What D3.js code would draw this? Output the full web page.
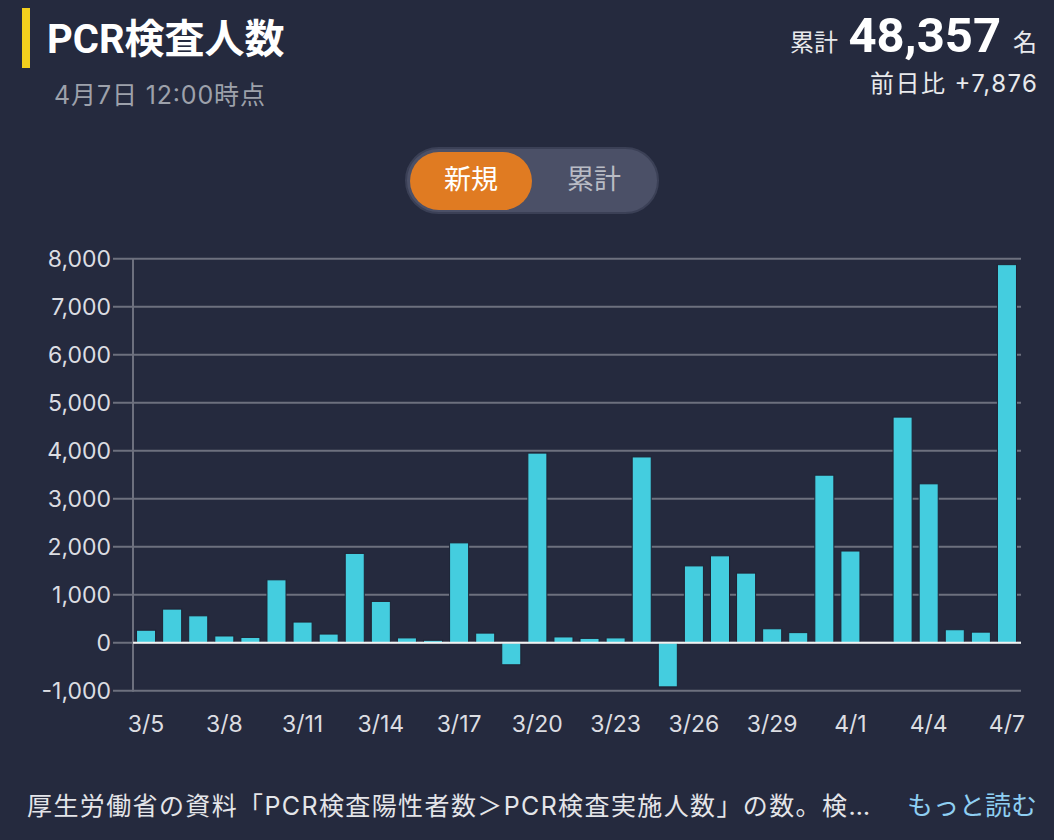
<!DOCTYPE html>
<html>
<head>
<meta charset="utf-8">
<script src="https://cdn.jsdelivr.net/npm/d3@7"></script>
<style>
html,body{margin:0;padding:0;background:#252a3e;}
svg{display:block;}
text{font-family:Inter,"Noto Sans CJK JP",sans-serif;}
</style>
</head>
<body>
<svg id="chart" width="1054" height="840"></svg>
<script>
const dates = ["3/5","3/6","3/7","3/8","3/9","3/10","3/11","3/12","3/13","3/14","3/15","3/16","3/17","3/18","3/19","3/20","3/21","3/22","3/23","3/24","3/25","3/26","3/27","3/28","3/29","3/30","3/31","4/1","4/2","4/3","4/4","4/5","4/6","4/7"];
const newTests = [260,700,560,140,110,1310,430,180,1860,860,100,50,2080,200,-460,3950,120,90,100,3870,-920,1600,1810,1450,290,210,3490,1910,0,4700,3310,270,220,7876];
const yTicks = [-1000,0,1000,2000,3000,4000,5000,6000,7000,8000];
const xTickLabels = ["3/5","3/8","3/11","3/14","3/17","3/20","3/23","3/26","3/29","4/1","4/4","4/7"];
const titleText = "PCR検査人数";
const subtitleText = "4月7日 12:00時点";
const totalLabel = "累計";
const totalValue = "48,357";
const totalUnit = "名";
const diffText = "前日比 +7,876";
const toggleLabels = ["新規","累計"];
const footerText = "厚生労働省の資料「PCR検査陽性者数＞PCR検査実施人数」の数。検…";
const moreText = "もっと読む";

const svg = d3.select("#chart");

// Header
svg.append("rect").attr("x",22).attr("y",8).attr("width",8).attr("height",60).attr("fill","#f2cf1d");
svg.append("text").attr("x",47).attr("y",53).attr("font-size",40).attr("font-weight",700)
  .style("font-family","Roboto,'Noto Sans CJK JP',sans-serif").attr("fill","#ffffff").text(titleText);
svg.append("text").attr("x",54).attr("y",104).attr("font-size",25).attr("fill","#9da1ab")
  .attr("textLength",211).attr("lengthAdjust","spacing").text(subtitleText);

svg.append("text").attr("x",838).attr("y",51).attr("text-anchor","end").attr("font-size",24).attr("fill","#e8e9ec").text(totalLabel);
svg.append("text").attr("x",1001).attr("y",52).attr("text-anchor","end").attr("font-size",49).attr("font-weight",700)
  .style("font-family","Roboto,sans-serif").attr("fill","#ffffff").text(totalValue);
svg.append("text").attr("x",1037).attr("y",51).attr("text-anchor","end").attr("font-size",24).attr("fill","#e8e9ec").text(totalUnit);
svg.append("text").attr("x",1037).attr("y",92).attr("text-anchor","end").attr("font-size",24).attr("fill","#e8e9ec")
  .attr("textLength",167).attr("lengthAdjust","spacing").text(diffText);

// Toggle
svg.append("rect").attr("x",406).attr("y",148).attr("width",252).attr("height",65).attr("rx",32.5).attr("fill","#4b5067").attr("stroke","#3b4056").attr("stroke-width",2);
svg.append("rect").attr("x",410).attr("y",152).attr("width",122).attr("height",58).attr("rx",29).attr("fill","#e07b22");
svg.append("text").attr("x",471).attr("y",189).attr("text-anchor","middle").attr("font-size",27).attr("fill","#ffffff").text(toggleLabels[0]);
svg.append("text").attr("x",594).attr("y",189).attr("text-anchor","middle").attr("font-size",27).attr("fill","#b9bcc5").text(toggleLabels[1]);

// Chart
const x0 = 133, x1 = 1020;
const x = d3.scaleBand().domain(dates).range([x0, x1]).paddingInner(0.27).paddingOuter(0.135);
const y = d3.scaleLinear().domain([-1000, 8000]).range([690.7, 258.7]);

const g = svg.append("g");
g.selectAll("line.grid").data(yTicks).join("line").attr("class","grid")
  .attr("x1",113).attr("x2",1021)
  .attr("y1",d=>y(d)).attr("y2",d=>y(d))
  .attr("stroke","#6d707e").attr("stroke-width",2);
g.append("line").attr("x1",x0).attr("x2",x0).attr("y1",y(8000)).attr("y2",y(-1000)+1)
  .attr("stroke","#6d707e").attr("stroke-width",2);

g.selectAll("text.ytick").data(yTicks).join("text").attr("class","ytick")
  .attr("x",111).attr("y",d=>y(d)).attr("dy","0.36em").attr("text-anchor","end")
  .attr("font-size",23).attr("fill","#dcdde2").text(d=>d3.format(",")(d).replace("−","-"));

g.selectAll("rect.bar").data(dates).join("rect").attr("class","bar")
  .attr("x",d=>x(d)).attr("width",x.bandwidth())
  .attr("y",(d,i)=>y(Math.max(0,newTests[i])))
  .attr("height",(d,i)=>Math.abs(y(newTests[i])-y(0)))
  .attr("fill","#44cddf").attr("stroke","#1e2233").attr("stroke-width",1);

g.append("line").attr("x1",x0).attr("x2",1021).attr("y1",y(0)).attr("y2",y(0))
  .attr("stroke","#f2f2f2").attr("stroke-width",2);

g.selectAll("text.xtick").data(xTickLabels).join("text").attr("class","xtick")
  .attr("x",d=>x(d)+x.bandwidth()/2).attr("y",732).attr("text-anchor","middle")
  .attr("font-size",23).attr("fill","#dcdde2").text(d=>d);

// Footer
svg.append("text").attr("x",27).attr("y",815).attr("font-size",25).attr("fill","#e4e5e9")
  .attr("textLength",843).attr("lengthAdjust","spacing").text(footerText);
svg.append("text").attr("x",1037).attr("y",815).attr("text-anchor","end").attr("font-size",26).attr("fill","#8fcff2").text(moreText);
</script>
</body>
</html>
